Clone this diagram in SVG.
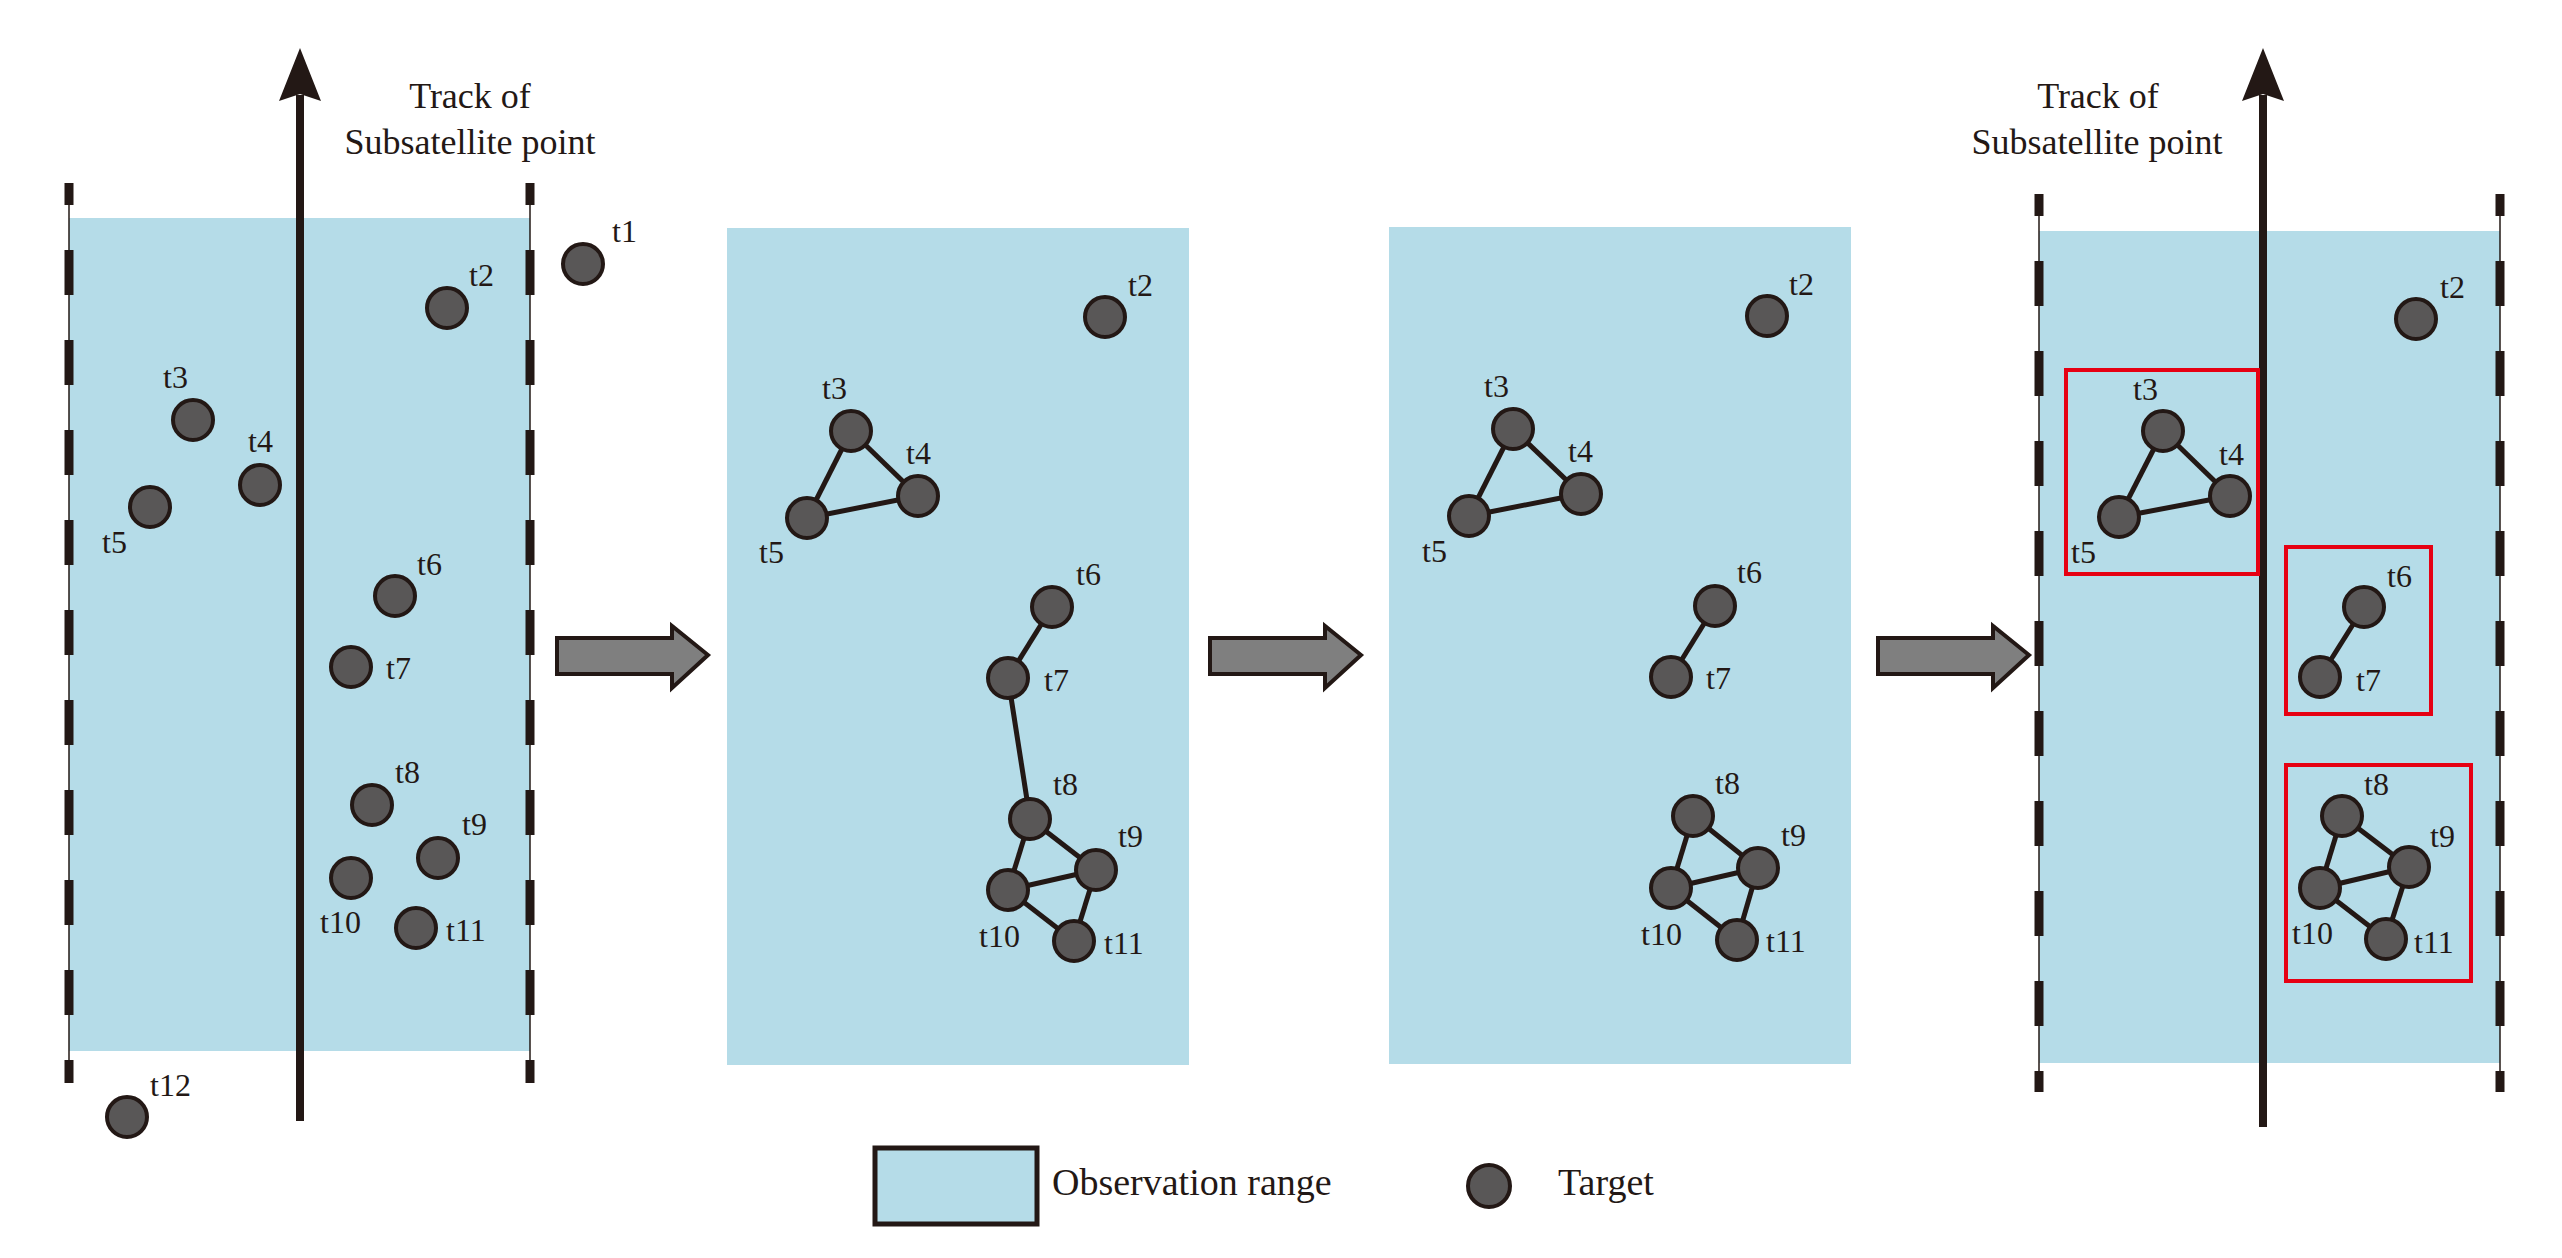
<svg xmlns="http://www.w3.org/2000/svg" width="2562" height="1258" viewBox="0 0 2562 1258">
<style>
.rng{fill:#b5dce8}
.n{fill:#595757;stroke:#231815;stroke-width:4}
.e{stroke:#231815;stroke-width:5}
.l{font-family:"Liberation Serif",serif;font-size:32px;fill:#231815}
.h{font-family:"Liberation Serif",serif;font-size:36px;fill:#231815;text-anchor:middle}
.lg{font-family:"Liberation Serif",serif;font-size:38px;fill:#231815}
.thin{stroke:#231815;stroke-width:1.5}
.dash{stroke:#231815;stroke-width:9;stroke-dasharray:45 45;stroke-dashoffset:23}
.trk{stroke:#231815;stroke-width:8}
.ar{fill:#7f7f7f;stroke:#231815;stroke-width:4}
.box{fill:none;stroke:#e60012;stroke-width:4}
</style>
<g id="panel1">
<rect class="rng" x="69" y="218" width="461" height="833"/>
<line class="thin" x1="69" y1="183" x2="69" y2="1083"/><line class="dash" x1="69" y1="183" x2="69" y2="1083"/>
<line class="thin" x1="530" y1="183" x2="530" y2="1083"/><line class="dash" x1="530" y1="183" x2="530" y2="1083"/>
<line class="trk" x1="300" y1="1121" x2="300" y2="95"/><polygon fill="#231815" points="300,48 321,101 300,94 279,101"/>
<text class="h" x="470" y="108">Track of</text><text class="h" x="470" y="154">Subsatellite point</text>
</g>
<g id="p1-targets">
<circle class="n" cx="583" cy="264" r="20"/><text class="l" x="612" y="242">t1</text>
<circle class="n" cx="447" cy="308" r="20"/><text class="l" x="469" y="286">t2</text>
<circle class="n" cx="193" cy="420" r="20"/><text class="l" x="163" y="388">t3</text>
<circle class="n" cx="260" cy="485" r="20"/><text class="l" x="248" y="452">t4</text>
<circle class="n" cx="150" cy="507" r="20"/><text class="l" x="102" y="553">t5</text>
<circle class="n" cx="395" cy="596" r="20"/><text class="l" x="417" y="575">t6</text>
<circle class="n" cx="351" cy="667" r="20"/><text class="l" x="386" y="679">t7</text>
<circle class="n" cx="372" cy="805" r="20"/><text class="l" x="395" y="783">t8</text>
<circle class="n" cx="438" cy="858" r="20"/><text class="l" x="462" y="835">t9</text>
<circle class="n" cx="351" cy="878" r="20"/><text class="l" x="320" y="933">t10</text>
<circle class="n" cx="416" cy="928" r="20"/><text class="l" x="446" y="941">t11</text>
<circle class="n" cx="127" cy="1117" r="20"/><text class="l" x="150" y="1096">t12</text>
</g>
<g id="arrows">
<polygon class="ar" points="557,638 672,638 672,626 708,655 672,688 672,674 557,674"/>
<polygon class="ar" points="1210,638 1325,638 1325,626 1361,655 1325,688 1325,674 1210,674"/>
<polygon class="ar" points="1878,638 1993,638 1993,626 2029,655 1993,688 1993,674 1878,674"/>
</g>
<g id="panel2">
<rect class="rng" x="727" y="228" width="462" height="837"/>
</g>
<g id="connectors">
<line class="e" x1="851" y1="431" x2="918" y2="496"/><line class="e" x1="851" y1="431" x2="807" y2="518"/><line class="e" x1="807" y1="518" x2="918" y2="496"/>
<line class="e" x1="1052" y1="607" x2="1008" y2="678"/><line class="e" x1="1008" y1="678" x2="1030" y2="819"/>
<line class="e" x1="1030" y1="819" x2="1096" y2="870"/><line class="e" x1="1030" y1="819" x2="1008" y2="890"/><line class="e" x1="1008" y1="890" x2="1096" y2="870"/><line class="e" x1="1008" y1="890" x2="1074" y2="941"/><line class="e" x1="1096" y1="870" x2="1074" y2="941"/>
</g>
<g id="p2-targets">
<circle class="n" cx="1105" cy="317" r="20"/><text class="l" x="1128" y="296">t2</text>
<circle class="n" cx="851" cy="431" r="20"/><text class="l" x="822" y="399">t3</text>
<circle class="n" cx="918" cy="496" r="20"/><text class="l" x="906" y="464">t4</text>
<circle class="n" cx="807" cy="518" r="20"/><text class="l" x="759" y="563">t5</text>
<circle class="n" cx="1052" cy="607" r="20"/><text class="l" x="1076" y="585">t6</text>
<circle class="n" cx="1008" cy="678" r="20"/><text class="l" x="1044" y="691">t7</text>
<circle class="n" cx="1030" cy="819" r="20"/><text class="l" x="1053" y="795">t8</text>
<circle class="n" cx="1096" cy="870" r="20"/><text class="l" x="1118" y="847">t9</text>
<circle class="n" cx="1008" cy="890" r="20"/><text class="l" x="979" y="947">t10</text>
<circle class="n" cx="1074" cy="941" r="20"/><text class="l" x="1104" y="954">t11</text>
</g>
<g id="panel3">
<rect class="rng" x="1389" y="227" width="462" height="837"/>
</g>
<g id="connectors3">
<line class="e" x1="1513" y1="429" x2="1581" y2="494"/><line class="e" x1="1513" y1="429" x2="1469" y2="516"/><line class="e" x1="1469" y1="516" x2="1581" y2="494"/>
<line class="e" x1="1715" y1="606" x2="1671" y2="677"/>
<line class="e" x1="1693" y1="816" x2="1758" y2="868"/><line class="e" x1="1693" y1="816" x2="1671" y2="888"/><line class="e" x1="1671" y1="888" x2="1758" y2="868"/><line class="e" x1="1671" y1="888" x2="1737" y2="940"/><line class="e" x1="1758" y1="868" x2="1737" y2="940"/>
</g>
<g id="p3-targets">
<circle class="n" cx="1767" cy="316" r="20"/><text class="l" x="1789" y="295">t2</text>
<circle class="n" cx="1513" cy="429" r="20"/><text class="l" x="1484" y="397">t3</text>
<circle class="n" cx="1581" cy="494" r="20"/><text class="l" x="1568" y="462">t4</text>
<circle class="n" cx="1469" cy="516" r="20"/><text class="l" x="1422" y="562">t5</text>
<circle class="n" cx="1715" cy="606" r="20"/><text class="l" x="1737" y="583">t6</text>
<circle class="n" cx="1671" cy="677" r="20"/><text class="l" x="1706" y="689">t7</text>
<circle class="n" cx="1693" cy="816" r="20"/><text class="l" x="1715" y="794">t8</text>
<circle class="n" cx="1758" cy="868" r="20"/><text class="l" x="1781" y="846">t9</text>
<circle class="n" cx="1671" cy="888" r="20"/><text class="l" x="1641" y="945">t10</text>
<circle class="n" cx="1737" cy="940" r="20"/><text class="l" x="1766" y="952">t11</text>
</g>
<g id="panel4">
<rect class="rng" x="2039" y="231" width="461" height="832"/>
<line class="thin" x1="2039" y1="194" x2="2039" y2="1092"/><line class="dash" x1="2039" y1="194" x2="2039" y2="1092"/>
<line class="thin" x1="2500" y1="194" x2="2500" y2="1092"/><line class="dash" x1="2500" y1="194" x2="2500" y2="1092"/>
<line class="trk" x1="2263" y1="1127" x2="2263" y2="95"/><polygon fill="#231815" points="2263,48 2284,101 2263,94 2242,101"/>
<text class="h" x="2098" y="108">Track of</text><text class="h" x="2097" y="154">Subsatellite point</text>
<rect class="box" x="2066" y="370" width="192" height="204"/>
<rect class="box" x="2286" y="547" width="145" height="167"/>
<rect class="box" x="2286" y="765" width="185" height="216"/>
</g>
<g id="connectors4">
<line class="e" x1="2163" y1="431" x2="2230" y2="496"/><line class="e" x1="2163" y1="431" x2="2119" y2="517"/><line class="e" x1="2119" y1="517" x2="2230" y2="496"/>
<line class="e" x1="2364" y1="607" x2="2320" y2="677"/>
<line class="e" x1="2342" y1="816" x2="2409" y2="867"/><line class="e" x1="2342" y1="816" x2="2320" y2="888"/><line class="e" x1="2320" y1="888" x2="2409" y2="867"/><line class="e" x1="2320" y1="888" x2="2386" y2="939"/><line class="e" x1="2409" y1="867" x2="2386" y2="939"/>
</g>
<g id="p4-targets">
<circle class="n" cx="2416" cy="319" r="20"/><text class="l" x="2440" y="298">t2</text>
<circle class="n" cx="2163" cy="431" r="20"/><text class="l" x="2133" y="400">t3</text>
<circle class="n" cx="2230" cy="496" r="20"/><text class="l" x="2219" y="465">t4</text>
<circle class="n" cx="2119" cy="517" r="20"/><text class="l" x="2071" y="563">t5</text>
<circle class="n" cx="2364" cy="607" r="20"/><text class="l" x="2387" y="587">t6</text>
<circle class="n" cx="2320" cy="677" r="20"/><text class="l" x="2356" y="691">t7</text>
<circle class="n" cx="2342" cy="816" r="20"/><text class="l" x="2364" y="795">t8</text>
<circle class="n" cx="2409" cy="867" r="20"/><text class="l" x="2430" y="847">t9</text>
<circle class="n" cx="2320" cy="888" r="20"/><text class="l" x="2292" y="944">t10</text>
<circle class="n" cx="2386" cy="939" r="20"/><text class="l" x="2414" y="953">t11</text>
</g>
<g id="legend">
<rect class="rng" x="875" y="1148" width="162" height="76" stroke="#231815" stroke-width="5"/>
<text class="lg" x="1052" y="1195">Observation range</text>
<circle class="n" cx="1489" cy="1186" r="21"/>
<text class="lg" x="1558" y="1195">Target</text>
</g>
</svg>
